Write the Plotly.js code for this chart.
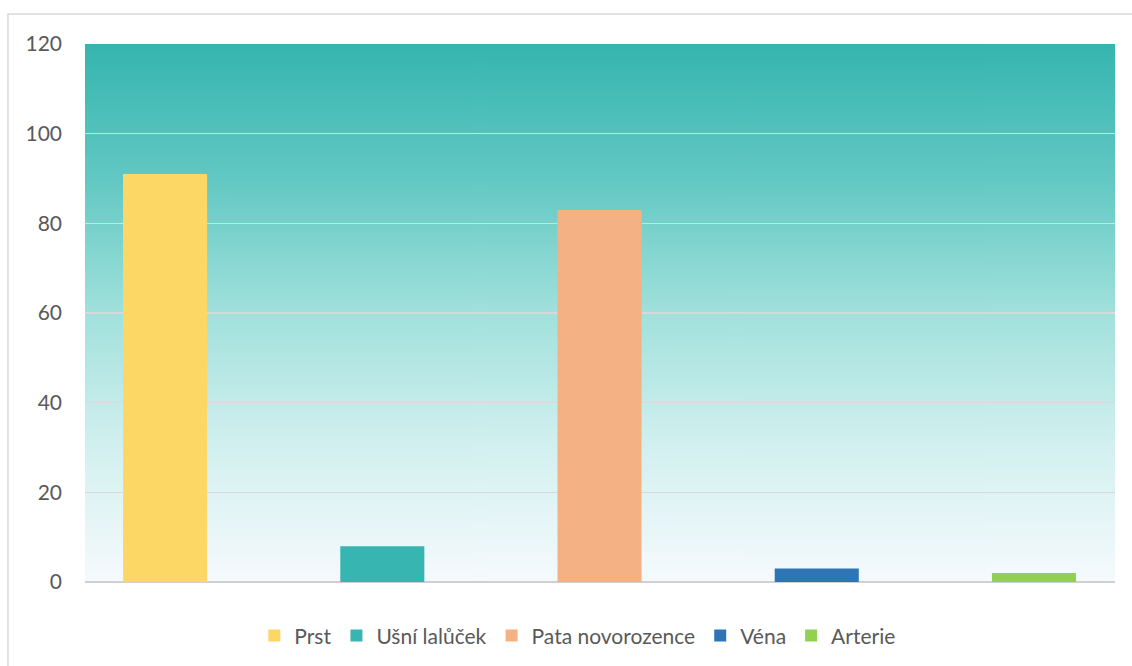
<!DOCTYPE html>
<html>
<head>
<meta charset="utf-8">
<script src="https://cdn.plot.ly/plotly-3.0.1.min.js"></script>
<style>
  html, body { margin: 0; padding: 0; background: #ffffff; }
  #chart { width: 1132px; height: 666px; }
</style>
</head>
<body>
<div id="chart"></div>
<script>
// Data
var seriesNames = ["Prst", "Ušní lalůček", "Pata novorozence", "Véna", "Arterie"];
var seriesValues = [91, 8, 83, 3, 2];
var seriesColors = ["#FDD766", "#37B6B1", "#F4B183", "#2E75B6", "#92D050"];
var yTicks = [0, 20, 40, 60, 80, 100, 120];

// Gradient background image (plot area)
function gradientURL() {
  var c = document.createElement('canvas');
  c.width = 4; c.height = 540;
  var g = c.getContext('2d');
  var lg = g.createLinearGradient(0, 0, 0, 540);
  lg.addColorStop(0.0, '#35B5AF');
  lg.addColorStop(0.25, '#62C8C3');
  lg.addColorStop(0.5, '#A1E1DC');
  lg.addColorStop(0.75, '#D3F0F0');
  lg.addColorStop(1.0, '#F6FAFD');
  g.fillStyle = lg;
  g.fillRect(0, 0, 4, 540);
  return c.toDataURL();
}

var traces = seriesNames.map(function (name, i) {
  return {
    type: 'bar',
    name: name,
    x: [name],
    y: [seriesValues[i]],
    width: 0.387,
    marker: { color: seriesColors[i], line: { width: 0 } },
    hoverinfo: 'name+y'
  };
});

var layout = {
  width: 1132,
  height: 666,
  margin: { l: 85, r: 17, t: 44, b: 84, autoexpand: false },
  paper_bgcolor: '#ffffff',
  plot_bgcolor: 'rgba(0,0,0,0)',
  barmode: 'overlay',
  font: { family: 'Lato, "Open Sans", sans-serif', color: '#595959', size: 21 },
  xaxis: {
    type: 'category',
    categoryorder: 'array',
    categoryarray: seriesNames,
    range: [-0.3687, 4.373],
    showticklabels: false,
    showgrid: false,
    zeroline: false,
    showline: false,
    ticks: ''
  },
  yaxis: {
    range: [0, 120],
    tickvals: yTicks,
    ticktext: yTicks.map(String),
    showgrid: true,
    gridcolor: '#D9D9D9',
    gridwidth: 1.5,
    zeroline: true,
    zerolinecolor: '#D0D0D0',
    zerolinewidth: 2,
    showline: false,
    ticks: '',
    ticklabelstandoff: 22,
    tickfont: { size: 21, color: '#595959' }
  },
  showlegend: true,
  legend: {
    orientation: 'h',
    x: 0.478, xanchor: 'center',
    y: -0.1, yanchor: 'middle',
    font: { size: 21, color: '#595959' },
    itemwidth: 30,
    traceorder: 'normal'
  },
  images: [{
    source: gradientURL(),
    xref: 'paper', yref: 'paper',
    x: 0, y: 1, sizex: 1, sizey: 1,
    xanchor: 'left', yanchor: 'top',
    sizing: 'stretch',
    layer: 'below'
  }],
  shapes: [{
    type: 'rect',
    xref: 'paper', yref: 'paper',
    x0: -0.0748, x1: 1.03,
    y0: -0.2, y1: 1.0558,
    line: { color: '#D9D9D9', width: 1.5 },
    fillcolor: 'rgba(0,0,0,0)',
    layer: 'below'
  }]
};

Plotly.newPlot('chart', traces, layout, { displayModeBar: false, staticPlot: true });
</script>
</body>
</html>
